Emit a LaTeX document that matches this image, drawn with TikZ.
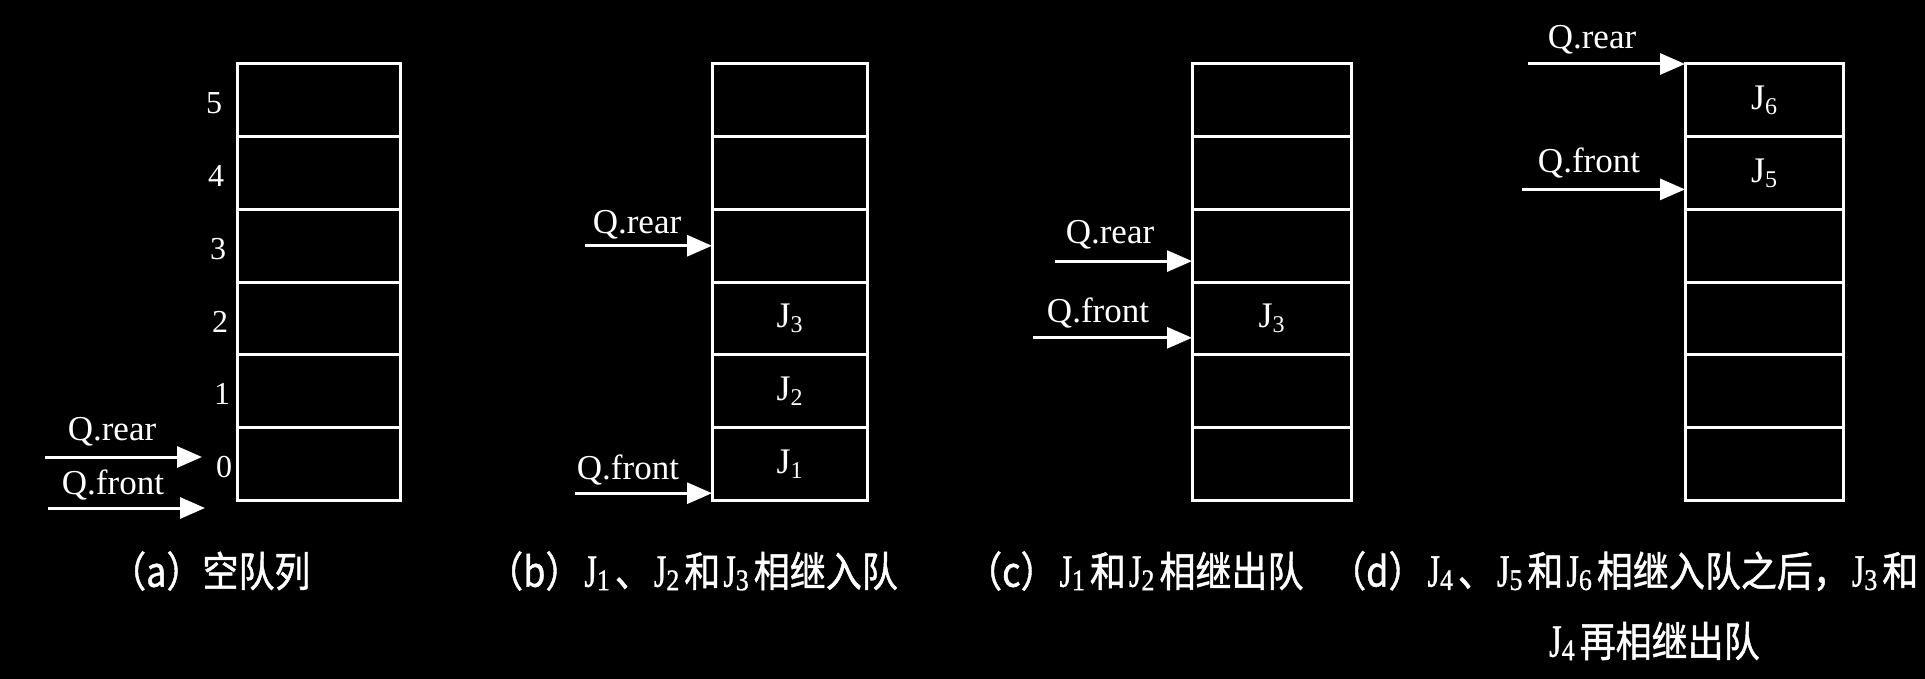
\documentclass[tikz,border=0pt]{standalone}
\usepackage{fontspec}
\setmainfont{Liberation Serif}
\newfontfamily\cjk[FakeBold=1.2]{Noto Sans CJK SC}
\newfontfamily\capserif[FakeBold=1]{Liberation Serif}
\usetikzlibrary{arrows.meta,calc}
\newcommand\Jx[1]{J\raisebox{-5pt}{\fontsize{24}{24}\selectfont #1}}
\newcommand\Jc[1]{\hspace{3pt}{\capserif\fontsize{40}{40}\selectfont\scalebox{0.8}[1]{J}\raisebox{-3pt}{\fontsize{26}{26}\selectfont #1}}\hspace{5pt}}
\begin{document}
\begin{tikzpicture}[x=1pt,y=-1pt,
  cellbox/.style={draw=white,line width=3pt,minimum height=72.7pt,inner sep=0pt,outer sep=0pt},
  jlab/.style={text=white,font=\fontsize{36}{36}\selectfont,inner sep=0pt},
  idx/.style={text=white,font=\fontsize{32}{32}\selectfont,inner sep=0pt},
  qlab/.style={text=white,font=\fontsize{35}{35}\selectfont,inner sep=0pt},
  caption/.style={text=white,anchor=west,inner sep=0pt,font=\cjk\fontsize{36}{36}\selectfont},
  arr/.style={draw=white,line width=3pt,-{Triangle[length=25pt,width=21pt]}}]
\fill[black] (0,0) rectangle (1925,679);
\useasboundingbox (0,0) rectangle (1925,679);
% cells
\foreach \p/\cx/\w in {a/318.5/163,b/789.5/155,c/1271.5/159,d/1764/158}{
  \foreach \k in {0,...,5}{
    \node[cellbox,minimum width=\w pt] (\p\k) at (\cx,{64+(5.5-\k)*72.7}) {};
  }
}
% indices of panel (a)
\foreach \k/\xx in {0/224,1/222,2/220,3/218,4/216,5/214}{
  \node[idx] (n\k) at ($(\xx,0)!(a\k.center)!(\xx,10)$) [yshift=-3pt] {\k};
}
% contents
\node[jlab] (jb1) at (b0) {\Jx{1}};
\node[jlab] (jb2) at (b1) {\Jx{2}};
\node[jlab] (jb3) at (b2) {\Jx{3}};
\node[jlab] (jc3) at (c2) {\Jx{3}};
\node[jlab] (jd6) at (d5) {\Jx{6}};
\node[jlab] (jd5) at (d4) {\Jx{5}};
% pointers (a)
\node[qlab] (arl) at (112,432) {Q.rear};
\node[qlab] (afl) at (113,485) {Q.front};
\coordinate (ars) at (45,457);
\coordinate (are) at (202,457);
\coordinate (afs) at (48,508);
\coordinate (afe) at (205,508);
\draw[arr] (ars) -- (are);
\draw[arr] (afs) -- (afe);
% pointers (b)
\node[qlab] (brl) at (637,225) {Q.rear};
\node[qlab] (bfl) at (628,470) {Q.front};
\coordinate (brs) at (585,0 |- b3.west);
\coordinate (bfe) at ($(b0.south west)+(0,-7)$);
\coordinate (bfs) at (575,0 |- bfe);
\draw[arr] (brs) -- (b3.west);
\draw[arr] (bfs) -- (bfe);
% pointers (c)
\node[qlab] (crl) at (1110,235) {Q.rear};
\node[qlab] (cfl) at (1098,313) {Q.front};
\coordinate (cre) at ($(c3.south west)+(0,-21)$);
\coordinate (crs) at (1055,0 |- cre);
\coordinate (cfe) at ($(c2.south west)+(0,-17)$);
\coordinate (cfs) at (1033,0 |- cfe);
\draw[arr] (crs) -- (cre);
\draw[arr] (cfs) -- (cfe);
% pointers (d)
\node[qlab] (drl) at (1592,40) {Q.rear};
\node[qlab] (dfl) at (1589,163) {Q.front};
\coordinate (dre) at (d5.north west);
\coordinate (drs) at (1528,0 |- dre);
\coordinate (dfe) at ($(d4.south west)+(0,-20)$);
\coordinate (dfs) at (1522,0 |- dfe);
\draw[arr] (drs) -- (dre);
\draw[arr] (dfs) -- (dfe);
% captions
\node[caption] (capa) at (110,571) {\scalebox{1}[1.15]{（a）空队列}};
\node[caption] (capb) at (487,571) {\scalebox{1}[1.15]{（b）\Jc{1}、\Jc{2}和\Jc{3}相继入队}};
\node[caption] (capc) at (966,571) {\scalebox{1}[1.15]{（c）\Jc{1}和\Jc{2}相继出队}};
\node[caption] (capd) at (1330,571) {\scalebox{1}[1.15]{（d）\Jc{4}、\Jc{5}和\Jc{6}相继入队之后，\Jc{3}和}};
\node[caption] (capd2) at (1546,641) {\scalebox{1}[1.15]{\Jc{4}再相继出队}};
\end{tikzpicture}
\end{document}
